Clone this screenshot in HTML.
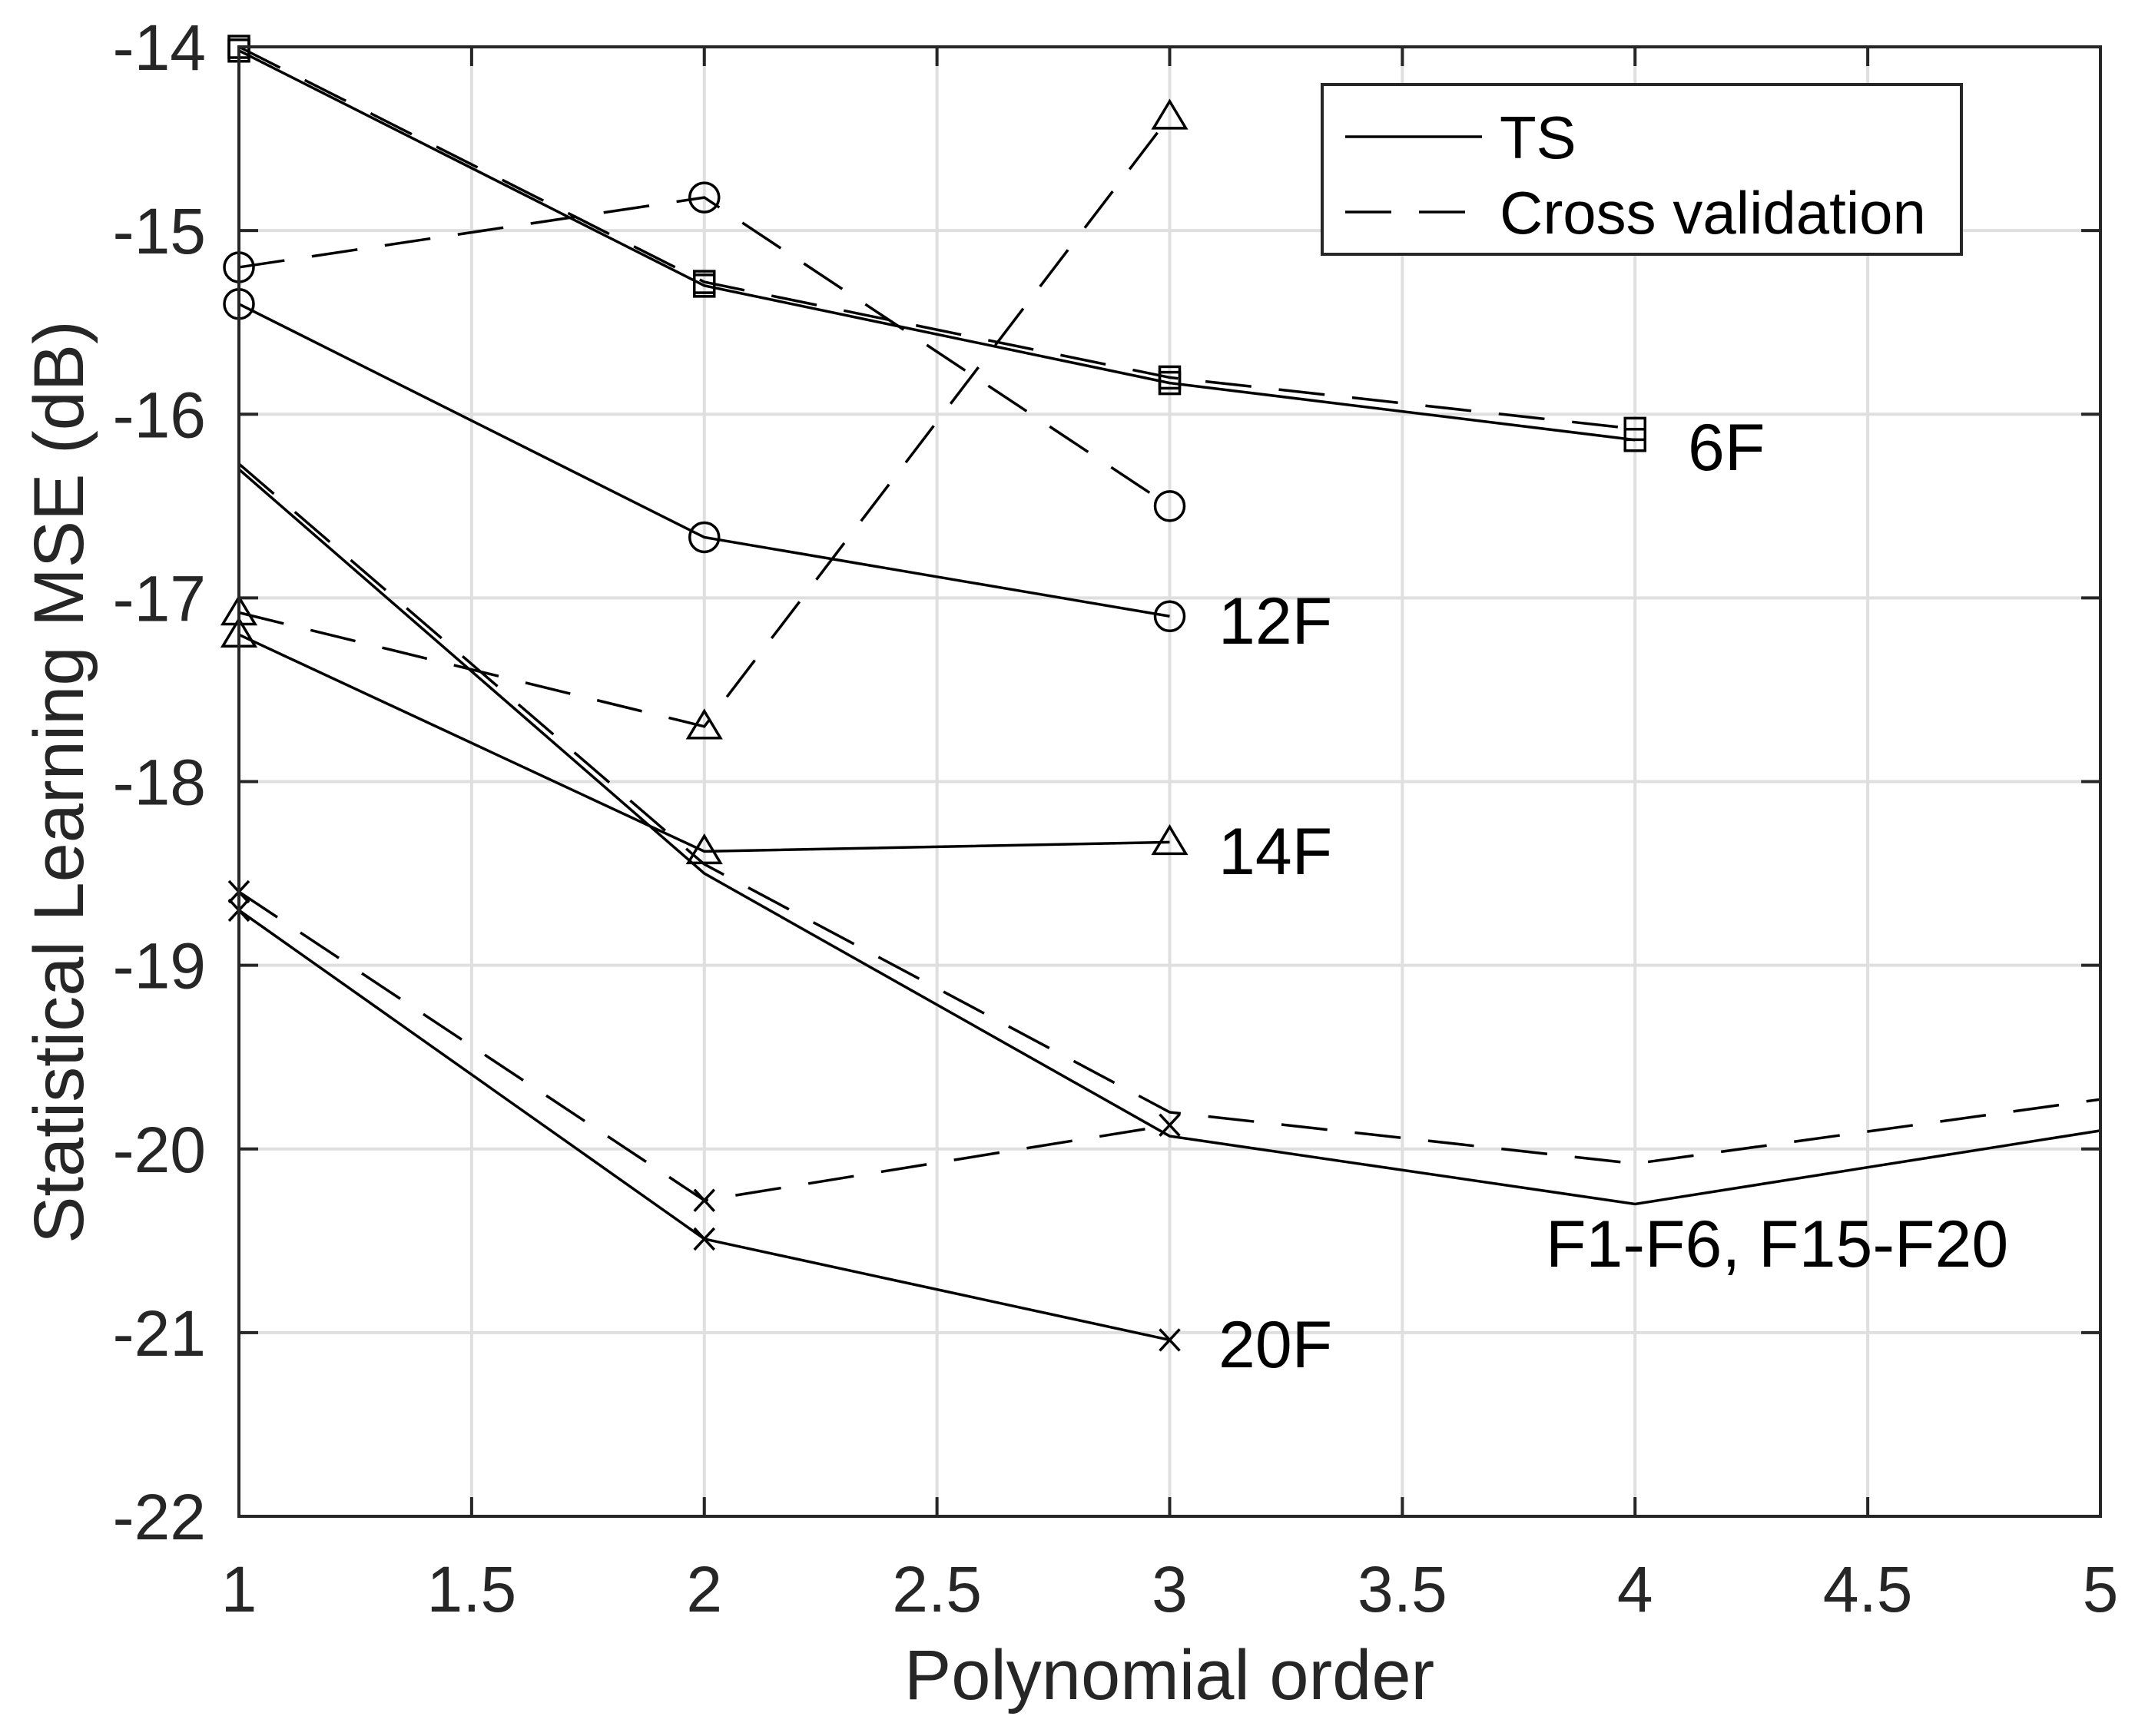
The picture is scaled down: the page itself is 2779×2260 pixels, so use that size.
<!DOCTYPE html>
<html><head><meta charset="utf-8"><style>
html,body{margin:0;padding:0;background:#fff;}
svg{display:block;font-family:"Liberation Sans",sans-serif;}
</style></head><body>
<svg id="chart" width="2779" height="2260" viewBox="0 0 2779 2260" xmlns="http://www.w3.org/2000/svg">
<rect width="2779" height="2260" fill="#fff"/>
<g id="grid"></g><g id="series"></g><g id="axes"></g>
</svg>
<script>
const xTicks=[1,1.5,2,2.5,3,3.5,4,4.5,5];
const xTickLabels=["1","1.5","2","2.5","3","3.5","4","4.5","5"];
const yTicks=[-14,-15,-16,-17,-18,-19,-20,-21,-22];
const yTickLabels=["-14","-15","-16","-17","-18","-19","-20","-21","-22"];
const xs6=[1,2,3,4];
const ts6=[-14.02,-15.3,-15.83,-16.14];
const cv6=[-14.0,-15.28,-15.8,-16.08];
const xs12=[1,2,3];
const ts12=[-15.4,-16.67,-17.1];
const cv12=[-15.2,-14.82,-16.5];
const xs14=[1,2,3];
const ts14=[-17.2,-18.38,-18.33];
const cv14=[-17.08,-17.7,-14.38];
const xsAll=[1,2,3,4,5];
const tsAll=[-16.3,-18.5,-19.93,-20.3,-19.9];
const cvAll=[-16.27,-18.45,-19.8,-20.08,-19.73];
const xs20=[1,2,3];
const ts20=[-18.7,-20.49,-21.04];
const cv20=[-18.6,-20.28,-19.87];

const L=311,R=2734,T=61,B=1974;
const X=v=>L+(v-1)/4*(R-L);
const Y=v=>T+(-14-v)/8*(B-T);
const NS="http://www.w3.org/2000/svg";
function mk(tag,attrs,parent){const e=document.createElementNS(NS,tag);for(const k in attrs)e.setAttribute(k,attrs[k]);parent.appendChild(e);return e;}
const grid=document.getElementById('grid'),ser=document.getElementById('series'),ax=document.getElementById('axes');
const TC="#262626";
xTicks.forEach((t,i)=>{
  let g=mk('line',{x1:X(t),x2:X(t),y1:T,y2:B,stroke:'#dfdfdf','stroke-width':4},grid);
  
  
  mk('line',{x1:X(t),x2:X(t),y1:B,y2:B-25,stroke:TC,'stroke-width':4},ax);
  mk('line',{x1:X(t),x2:X(t),y1:T,y2:T+25,stroke:TC,'stroke-width':4},ax);
  let tx=mk('text',{x:X(t),y:2098,'text-anchor':'middle','font-size':84,fill:TC},ax);
  tx.textContent=xTickLabels[i];
  
  
});
yTicks.forEach((t,i)=>{
  let g=mk('line',{x1:L,x2:R,y1:Y(t),y2:Y(t),stroke:'#dfdfdf','stroke-width':4},grid);
  
  
  mk('line',{x1:L,x2:L+25,y1:Y(t),y2:Y(t),stroke:TC,'stroke-width':4},ax);
  mk('line',{x1:R,x2:R-25,y1:Y(t),y2:Y(t),stroke:TC,'stroke-width':4},ax);
  let tx=mk('text',{x:268,y:Y(t)+30,'text-anchor':'end','font-size':84,fill:TC},ax);
  tx.textContent=yTickLabels[i];
  
  
});
let fr=mk('rect',{x:L,y:T,width:R-L,height:B-T,fill:'none',stroke:TC,'stroke-width':4},ax);



function line(xs,ys,dashed,name){
  const p=mk('polyline',{points:xs.map((x,i)=>X(x)+','+Y(ys[i])).join(' '),fill:'none',stroke:'#000','stroke-width':3.5,'stroke-dasharray':dashed?'60 36':'none'},ser);
  
  
}
function markers(xs,ys,type,name){
  xs.forEach((x,i)=>{
    const cx=X(x),cy=Y(ys[i]);let m;
    if(type==='sq') m=mk('rect',{x:cx-13,y:cy-14,width:26,height:28,fill:'none',stroke:'#000','stroke-width':3.5},ser);
    else if(type==='o') m=mk('ellipse',{cx:cx,cy:cy,rx:19,ry:19,fill:'none',stroke:'#000','stroke-width':3.5},ser);
    else if(type==='tri') m=mk('polygon',{points:`${cx},${cy-20} ${cx-21},${cy+15} ${cx+21},${cy+15}`,fill:'none',stroke:'#000','stroke-width':3.5},ser);
    else m=mk('path',{d:`M${cx-13},${cy-14}L${cx+13},${cy+14}M${cx-13},${cy+14}L${cx+13},${cy-14}`,fill:'none',stroke:'#000','stroke-width':3.5},ser);
    
    
  });
}
line(xs6,ts6,false,'ts-6f-line');markers(xs6,ts6,'sq','ts-6f-marker');
line(xs6,cv6,true,'cv-6f-line');markers(xs6,cv6,'sq','cv-6f-marker');
line(xs12,ts12,false,'ts-12f-line');markers(xs12,ts12,'o','ts-12f-marker');
line(xs12,cv12,true,'cv-12f-line');markers(xs12,cv12,'o','cv-12f-marker');
line(xs14,ts14,false,'ts-14f-line');markers(xs14,ts14,'tri','ts-14f-marker');
line(xs14,cv14,true,'cv-14f-line');markers(xs14,cv14,'tri','cv-14f-marker');
line(xsAll,tsAll,false,'ts-all-line');
line(xsAll,cvAll,true,'cv-all-line');
line(xs20,ts20,false,'ts-20f-line');markers(xs20,ts20,'x','ts-20f-marker');
line(xs20,cv20,true,'cv-20f-line');markers(xs20,cv20,'x','cv-20f-marker');
</script>
<svg style="position:absolute;left:0;top:0" width="2779" height="2260" xmlns="http://www.w3.org/2000/svg" font-family="Liberation Sans, sans-serif">
<text x="2197" y="612" font-size="86" fill="#000">6F</text>
<text x="1586" y="838" font-size="86" fill="#000">12F</text>
<text x="1586" y="1138" font-size="86" fill="#000">14F</text>
<text x="1586" y="1780" font-size="86" fill="#000">20F</text>
<text x="2012" y="1649" font-size="86" fill="#000">F1-F6, F15-F20</text>
<g>
<rect x="1721" y="110" width="832" height="221" fill="#fff" stroke="#262626" stroke-width="4"/>
<line x1="1751" x2="1929" y1="178" y2="178" stroke="#000" stroke-width="3.5"/>
<text x="1952" y="206" font-size="78" fill="#000">TS</text>
<line x1="1751" x2="1929" y1="276" y2="276" stroke="#000" stroke-width="3.5" stroke-dasharray="60 36"/>
<text x="1952" y="304" font-size="78" fill="#000">Cross validation</text>
</g>
<text x="1522" y="2212" text-anchor="middle" font-size="92" fill="#262626">Polynomial order</text>
<text transform="translate(108,1018) rotate(-90)" text-anchor="middle" font-size="92" fill="#262626">Statistical Learning MSE (dB)</text>
</svg>
</body></html>
